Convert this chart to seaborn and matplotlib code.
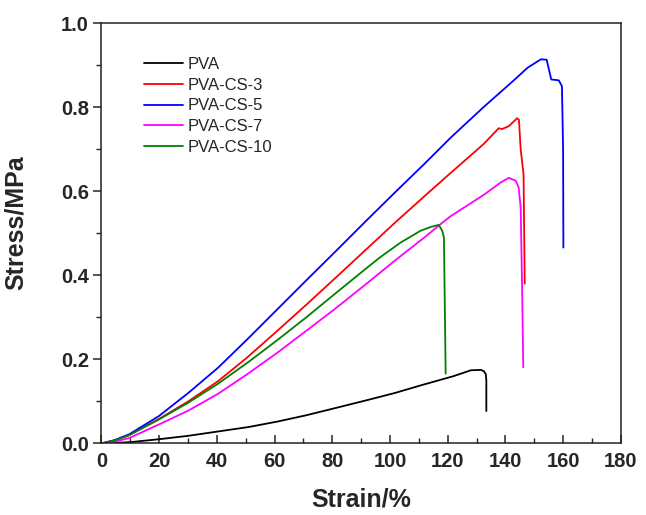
import numpy as np
import pandas as pd
import seaborn as sns
import matplotlib
matplotlib.use('Agg')
import matplotlib.pyplot as plt
from matplotlib.ticker import MultipleLocator, FormatStrFormatter

sns.set_style('ticks')
plt.rcParams['font.family'] = ['Liberation Sans', 'DejaVu Sans']

samples = ['PVA', 'PVA-CS-3', 'PVA-CS-5', 'PVA-CS-7', 'PVA-CS-10']
colors = ['black', '#ff0000', '#0000ff', '#ff00ff', '#008000']

strain_pva = [0, 10, 20, 30, 40, 51, 61, 71, 81, 91.5, 101.7, 110.6, 122, 128, 131.5, 132.5, 133.2, 133.4, 133.4]
stress_pva = [0, 0.003, 0.010, 0.018, 0.028, 0.039, 0.052, 0.067, 0.084, 0.102, 0.120, 0.138, 0.160, 0.174, 0.175, 0.172, 0.165, 0.150, 0.077]

strain_cs3 = [0, 4.6, 9.7, 19.9, 30.1, 40.4, 50.6, 60.8, 71, 81.3, 91.5, 101.7, 111.9, 121.1, 132.4, 137.7, 138.8, 141.2, 144.1, 144.7, 145.3, 146.3, 146.7]
stress_cs3 = [0, 0.007, 0.02, 0.058, 0.10, 0.148, 0.205, 0.267, 0.33, 0.395, 0.46, 0.525, 0.588, 0.644, 0.712, 0.75, 0.748, 0.755, 0.774, 0.77, 0.70, 0.64, 0.38]

strain_cs5 = [0, 4.6, 9.7, 19.9, 30.1, 40.4, 50.6, 60.8, 71, 81.3, 91.5, 101.7, 111.9, 121.1, 132.4, 142.6, 147.7, 152.3, 154.3, 155.9, 158.5, 159.6, 160, 160.1]
stress_cs5 = [0, 0.008, 0.022, 0.065, 0.12, 0.18, 0.248, 0.318, 0.388, 0.458, 0.528, 0.597, 0.665, 0.728, 0.800, 0.862, 0.894, 0.914, 0.913, 0.866, 0.864, 0.85, 0.70, 0.466]

strain_cs7 = [0, 4.6, 9.7, 19.9, 30.1, 40.4, 50.6, 60.8, 71, 81.3, 91.5, 101.7, 111.9, 118.1, 121.1, 132.4, 138.4, 141.2, 143.6, 144.6, 145.3, 145.8, 146.2]
stress_cs7 = [0, 0.004, 0.013, 0.045, 0.078, 0.118, 0.165, 0.215, 0.268, 0.322, 0.378, 0.435, 0.49, 0.525, 0.541, 0.591, 0.621, 0.632, 0.625, 0.609, 0.561, 0.368, 0.181]

strain_cs10 = [0, 4.6, 9.7, 19.9, 30.1, 40.4, 50.6, 60.8, 71, 81.3, 91.5, 96.6, 103.7, 110.6, 114.1, 116.9, 118.1, 118.7, 119.3]
stress_cs10 = [0, 0.007, 0.02, 0.057, 0.097, 0.142, 0.192, 0.245, 0.30, 0.358, 0.415, 0.443, 0.478, 0.506, 0.515, 0.52, 0.506, 0.49, 0.166]

strains = [strain_pva, strain_cs3, strain_cs5, strain_cs7, strain_cs10]
stresses = [stress_pva, stress_cs3, stress_cs5, stress_cs7, stress_cs10]

frames = []
for name, x, y in zip(samples, strains, stresses):
    frames.append(pd.DataFrame({'strain': x, 'stress': y, 'sample': name}))
df = pd.concat(frames, ignore_index=True)

fig = plt.figure(figsize=(6.46, 5.15), dpi=100)
ax = fig.add_axes([0.157, 0.139, 0.804, 0.816])

sns.lineplot(data=df, x='strain', y='stress', hue='sample', hue_order=samples,
             palette=colors, sort=False, estimator=None, units='sample',
             linewidth=1.3, ax=ax)

ax.set_xlim(0, 180)
ax.set_ylim(0, 1.0)
ax.xaxis.set_major_locator(MultipleLocator(20))
ax.xaxis.set_minor_locator(MultipleLocator(10))
ax.yaxis.set_major_locator(MultipleLocator(0.2))
ax.yaxis.set_minor_locator(MultipleLocator(0.1))
ax.yaxis.set_major_formatter(FormatStrFormatter('%.1f'))

for s in ax.spines.values():
    s.set_linewidth(1.1)
    s.set_color('#222222')

ax.tick_params(axis='x', which='major', direction='in', length=6, width=1.1, labelsize=14.5, pad=6)
ax.tick_params(axis='x', which='minor', direction='in', length=3.5, width=1.0)
ax.tick_params(axis='y', which='major', direction='out', length=6, width=1.1, labelsize=14.5, pad=3)
ax.tick_params(axis='y', which='minor', direction='out', length=3.5, width=1.0)
for lab in ax.get_xticklabels() + ax.get_yticklabels():
    lab.set_fontweight('bold')

ax.set_xlabel('Strain/%', fontsize=18, fontweight='bold', labelpad=12)
ax.set_ylabel('Stress/MPa', fontsize=18, fontweight='bold')
ax.yaxis.set_label_coords(-0.141, 0.525)

ax.legend(loc='upper left', bbox_to_anchor=(0.082, 0.92), frameon=False, fontsize=12,
          handlelength=2.35, handletextpad=0.25, labelspacing=0.35,
          borderpad=0, borderaxespad=0)

fig.savefig('out.png', dpi=100)
